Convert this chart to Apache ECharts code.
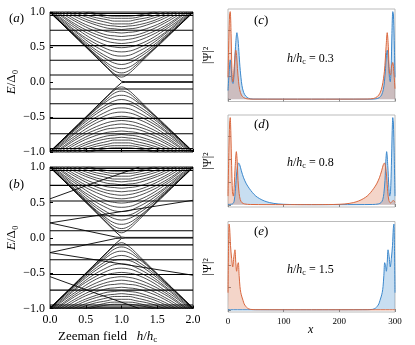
<!DOCTYPE html>
<html>
<head>
<meta charset="utf-8">
<script src="https://cdn.jsdelivr.net/npm/echarts@6/dist/echarts.min.js"></script>
<style>html,body{margin:0;padding:0;background:#fff}#main{width:415px;height:345px}</style>
</head>
<body>
<div id="main"></div>
<script>
// ---- 左侧能谱数据 (横轴 h/hc) ----
var hGrid = [0, 0.2, 0.4, 0.6, 0.8, 0.9, 1.0, 1.1, 1.2, 1.4, 1.6, 1.8, 2.0];
// 上锥形能带, h 从 0 到 1 的读数 (h>1 对称)
var coneHalf = [
  [1.00, 0.80, 0.60, 0.41, 0.21, 0.12, 0.07],
  [1.00, 0.80, 0.61, 0.42, 0.24, 0.16, 0.13],
  [0.99, 0.80, 0.62, 0.43, 0.27, 0.21, 0.19],
  [1.00, 0.81, 0.63, 0.46, 0.32, 0.27, 0.25],
  [1.00, 0.82, 0.65, 0.49, 0.36, 0.32, 0.31],
  [1.01, 0.84, 0.68, 0.53, 0.42, 0.38, 0.37],
  [1.02, 0.86, 0.70, 0.57, 0.47, 0.44, 0.43],
  [1.04, 0.88, 0.74, 0.61, 0.52, 0.50, 0.49],
  [1.06, 0.91, 0.77, 0.66, 0.58, 0.56, 0.55],
  [1.08, 0.93, 0.80, 0.70, 0.63, 0.61, 0.60],
  [1.10, 0.96, 0.84, 0.74, 0.67, 0.66, 0.65],
  [1.12, 0.99, 0.87, 0.78, 0.72, 0.71, 0.70],
  [1.14, 1.02, 0.91, 0.83, 0.77, 0.76, 0.75],
  [1.16, 1.04, 0.94, 0.86, 0.81, 0.80, 0.79],
  [1.18, 1.07, 0.97, 0.90, 0.85, 0.83, 0.83],
  [1.20, 1.09, 1.00, 0.93, 0.89, 0.87, 0.87],
  [1.22, 1.12, 1.03, 0.97, 0.92, 0.91, 0.91],
  [1.23, 1.14, 1.06, 0.99, 0.95, 0.94, 0.94]
];
var flatLevels = [0.1, 0.31, 0.52, 0.74, 0.95, 0.98];
var zeroMode = [[0, 1.0], [0.2, 0.8], [0.4, 0.6], [0.6, 0.4], [0.8, 0.2], [0.9, 0.1], [1.0, 0.01], [1.05, 0.005], [2.0, 0.005]];
// (b) 中塞曼劈裂的能级
var splitB = [
  [[0, 0.21], [0.5, 0.1], [0.92, 0.01], [1.0, 0.005]],
  [[0, 0.21], [1.0, 0.37], [2.0, 0.53]],
  [[0, 0.55], [0.6, 0.77], [1.25, 1.0]]
];

// ---- 右侧 |Psi|^2 数据 ----
var psiC_blue = [[0,0.1],[2,0.3],[4,0.45],[5.5,0.38],[7.5,0.2],[9,0.18],[11,0.3],[13.5,0.6],[16,0.76],[18,0.68],[20,0.5],[22,0.33],[25,0.16],[28,0.08],[32,0.035],[37,0.012],[45,0.003],[150,0.002],
  [255,0.002],[266,0.006],[272,0.02],[276,0.05],[279,0.11],[281,0.2],[283,0.35],[284.5,0.5],[286,0.56],[288,0.45],[290,0.25],[291.5,0.2],[293,0.35],[294.5,0.75],[296,1.0],[297,0.98],[298.5,0.7],[300,0.25]];
var psiC_orange = [[0,0.25],[1.5,0.7],[3,0.98],[4,1.0],[5.5,0.75],[7,0.35],[8.5,0.2],[10,0.25],[12,0.45],[14,0.56],[15.5,0.5],[17,0.35],[19,0.2],[21,0.11],[24,0.05],[28,0.02],[34,0.006],[45,0.002],[150,0.002],
  [250,0.003],[262,0.01],[268,0.03],[273,0.07],[277,0.15],[281,0.32],[284,0.6],[286,0.76],[288,0.6],[290,0.3],[292,0.28],[294,0.38],[296,0.42],[298,0.3],[300,0.12]];
var psiD_blue = [[0,0.005],[8,0.01],[11,0.04],[13,0.15],[15,0.32],[17,0.44],[19,0.48],[21,0.46],[24,0.39],[28,0.31],[33,0.24],[38,0.19],[44,0.14],[50,0.1],[57,0.07],[65,0.045],[75,0.025],[90,0.01],[110,0.004],[150,0.002],
  [200,0.002],[260,0.004],[270,0.01],[275,0.025],[278,0.06],[280,0.13],[282,0.28],[283.5,0.5],[285,0.61],[287,0.45],[289,0.2],[290.5,0.1],[292,0.15],[293.5,0.45],[295,0.85],[296,1.0],[297,0.95],[298.5,0.6],[300,0.1]];
var psiD_orange = [[0,0.1],[1.5,0.6],[3,0.95],[4,1.0],[5,0.85],[6.5,0.45],[8,0.15],[9.5,0.1],[11,0.2],[13,0.45],[15,0.61],[16.5,0.5],[18,0.28],[20,0.13],[22,0.06],[25,0.025],[30,0.01],[40,0.004],[100,0.002],
  [150,0.002],[190,0.004],[210,0.01],[225,0.025],[235,0.045],[243,0.07],[250,0.1],[256,0.14],[262,0.19],[267,0.24],[272,0.31],[276,0.39],[279,0.46],[281,0.48],[283,0.44],[285,0.32],[287,0.15],[289,0.05],[292,0.02],[295,0.04],[297,0.05],[300,0.03]];
var psiE_blue = [[0,0.001],[150,0.001],[250,0.002],[260,0.006],[265,0.02],[268,0.04],[271,0.07],[273,0.11],[275,0.15],[277,0.2],[278.5,0.27],[280,0.4],[281.5,0.55],[283,0.52],[284.5,0.45],[286,0.55],[287.5,0.7],[289.5,0.62],[291.5,0.5],[293.5,0.6],[295.5,0.75],[297,0.95],[298,1.0],[299,0.75],[300,0.2]];
var psiE_orange = [[0,0.2],[1,0.75],[2,1.0],[3,0.95],[4.5,0.75],[6.5,0.6],[8.5,0.5],[10.5,0.62],[12.5,0.7],[14,0.55],[15.5,0.45],[17,0.52],[18.5,0.55],[20,0.4],[21.5,0.27],[23,0.2],[25,0.15],[27,0.11],[29,0.07],[32,0.04],[35,0.02],[40,0.006],[50,0.002],[150,0.001],[300,0.001]];
var fieldLabels = ['0.3', '0.8', '1.5'];
var psiTicks = [0, 0.26, 0.52, 0.79];

var serif = 'Liberation Serif';
var myChart = echarts.init(document.getElementById('main'));

var series = [];
function addLine(g, pts, w) {
  series.push({
    type: 'line', xAxisIndex: g, yAxisIndex: g, data: pts,
    symbol: 'none', smooth: w.smooth || false, silent: true,
    lineStyle: { color: '#000', width: w.width }
  });
}
function neg(pts) {
  return pts.map(function (p) { return [p[0], -p[1]]; });
}

// 两个能谱面板
for (var g = 0; g < 2; g++) {
  flatLevels.forEach(function (v) {
    addLine(g, [[0, v], [2, v]], { width: 1.1 });
    addLine(g, [[0, -v], [2, -v]], { width: 1.1 });
  });
  coneHalf.forEach(function (half) {
    var full = half.concat(half.slice(0, -1).reverse());
    var pts = hGrid.map(function (h, j) { return [h, full[j]]; });
    addLine(g, pts, { width: 0.7, smooth: 0.4 });
    addLine(g, neg(pts), { width: 0.7, smooth: 0.4 });
  });
  addLine(g, zeroMode, { width: 0.9 });
  addLine(g, neg(zeroMode), { width: 0.9 });
}
splitB.forEach(function (pts) {
  addLine(1, pts, { width: 0.9 });
  addLine(1, neg(pts), { width: 0.9 });
});

// 波函数面板
var psiSets = [[psiC_blue, psiC_orange], [psiD_blue, psiD_orange], [psiE_blue, psiE_orange]];
var blue = '#3a87cc', orange = '#d9673e';
psiSets.forEach(function (s, k) {
  [[s[0], blue], [s[1], orange]].forEach(function (d) {
    series.push({
      type: 'line', xAxisIndex: k + 2, yAxisIndex: k + 2, data: d[0],
      symbol: 'none', smooth: 0.3, silent: true,
      lineStyle: { color: d[1], width: 1 },
      areaStyle: { color: d[1], opacity: 0.28 }
    });
  });
});

var grids = [
  { left: 50, top: 12, width: 143, height: 140 },
  { left: 50, top: 167, width: 143, height: 141.5 },
  { left: 228, top: 9, width: 167, height: 92.5 },
  { left: 228, top: 115, width: 167, height: 92 },
  { left: 228, top: 221.5, width: 167, height: 90.5 }
];
grids.forEach(function (gr, i) {
  gr.show = true;
  gr.borderColor = i < 2 ? '#000' : '#aaa';
  gr.borderWidth = 0.8;
});

var xAxes = [], yAxes = [];
for (var i = 0; i < 5; i++) {
  var left = i < 2;
  xAxes.push({
    type: 'value', gridIndex: i,
    min: 0, max: left ? 2 : 300, interval: left ? 0.5 : 100,
    axisLine: { show: false, onZero: false },
    axisTick: { show: true, inside: true, length: 3, lineStyle: { color: left ? '#000' : '#888' } },
    splitLine: { show: false },
    axisLabel: {
      show: i === 1 || i === 4, margin: 5,
      fontFamily: serif, fontSize: left ? 12 : 9, color: '#000',
      formatter: left ? function (v) { return v.toFixed(1); } : '{value}'
    }
  });
  yAxes.push(left ? {
    type: 'value', gridIndex: i, min: -1, max: 1, interval: 0.5,
    axisLine: { show: false, onZero: false },
    axisTick: { show: true, inside: true, length: 3, lineStyle: { color: '#000' } },
    splitLine: { show: false },
    axisLabel: {
      margin: 5, fontFamily: serif, fontSize: 12, color: '#000',
      formatter: function (v) { return (v < 0 ? '\u2212' : '') + Math.abs(v).toFixed(1); }
    },
    name: '{i|E}/\u0394\u2080', nameLocation: 'middle', nameGap: 32, nameRotate: 90,
    nameTextStyle: { fontFamily: serif, fontSize: 13, color: '#000', rich: { i: { fontFamily: serif, fontSize: 13, fontStyle: 'italic' } } }
  } : {
    type: 'value', gridIndex: i, min: -0.025, max: 1.03,
    axisLine: { show: false, onZero: false },
    axisTick: { show: true, inside: true, length: 3, customValues: psiTicks, lineStyle: { color: '#888' } },
    splitLine: { show: false },
    axisLabel: { show: false },
    name: '|\u03a8|\u00b2', nameLocation: 'middle', nameGap: 14, nameRotate: 90,
    nameTextStyle: { fontFamily: serif, fontSize: 12, color: '#000' }
  });
}

// 文字标注
var graphic = [];
function panelLabel(x, y, letter) {
  graphic.push({
    type: 'text', left: x, top: y,
    style: {
      text: '({i|' + letter + '})', fontFamily: serif, fontSize: 13, fill: '#000',
      rich: { i: { fontFamily: serif, fontSize: 13, fontStyle: 'italic' } }
    }
  });
}
panelLabel(9, 12, 'a');
panelLabel(9, 178, 'b');
panelLabel(254, 14, 'c');
panelLabel(254, 118, 'd');
panelLabel(254, 225, 'e');
var labelY = [53, 157, 264];
fieldLabels.forEach(function (t, k) {
  graphic.push({
    type: 'text', left: 287, top: labelY[k],
    style: {
      text: '{i|h}/{i|h}{s|c} = ' + t, fontFamily: serif, fontSize: 12, fill: '#000',
      rich: {
        i: { fontFamily: serif, fontSize: 12, fontStyle: 'italic' },
        s: { fontFamily: serif, fontSize: 8, verticalAlign: 'bottom', padding: [6, 0, 0, 0] }
      }
    }
  });
});
graphic.push({
  type: 'text', left: 58, top: 330,
  style: {
    text: 'Zeeman field   {i|h}/{i|h}{s|c}', fontFamily: serif, fontSize: 13, fill: '#000',
    rich: {
      i: { fontFamily: serif, fontSize: 13, fontStyle: 'italic' },
      s: { fontFamily: serif, fontSize: 9, verticalAlign: 'bottom', padding: [6, 0, 0, 0] }
    }
  }
});
graphic.push({
  type: 'text', left: 308, top: 324,
  style: { text: 'x', fontFamily: serif, fontSize: 12, fontStyle: 'italic', fill: '#000' }
});

var option = {
  animation: false,
  grid: grids,
  xAxis: xAxes,
  yAxis: yAxes,
  series: series,
  graphic: graphic
};
myChart.setOption(option);
</script>
</body>
</html>
